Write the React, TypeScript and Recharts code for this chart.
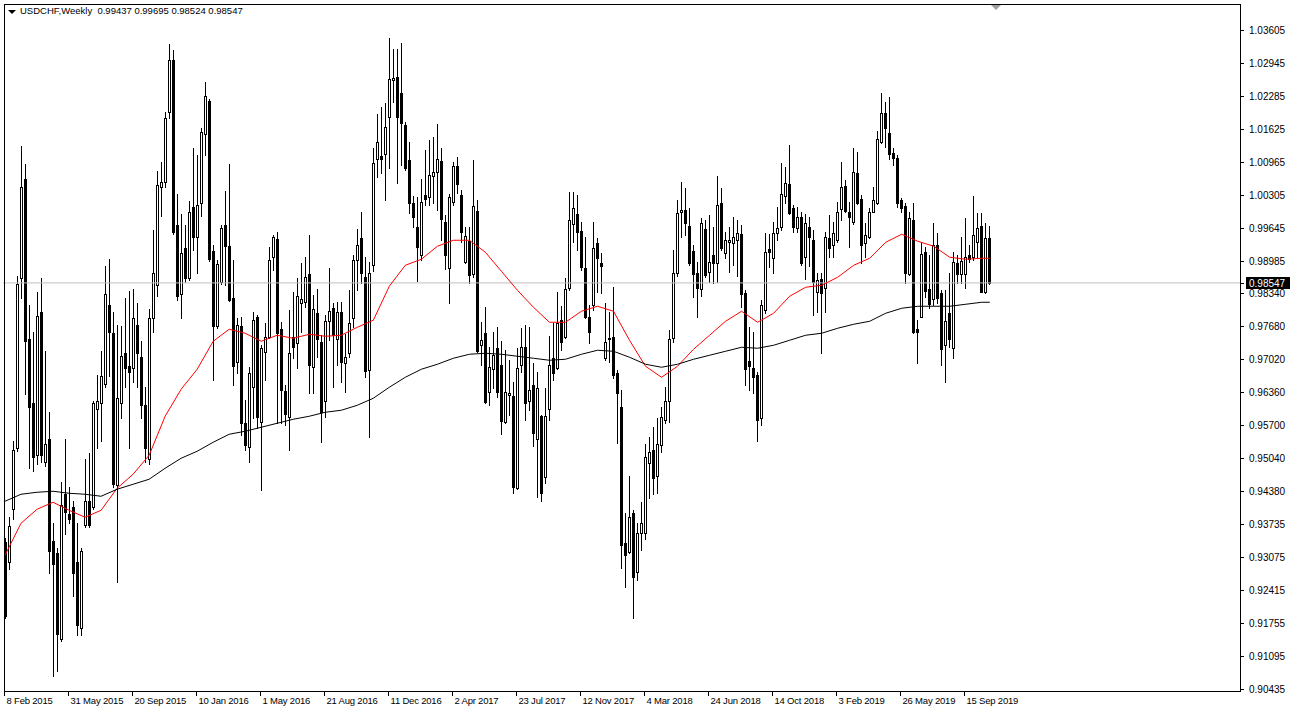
import { Bar, ComposedChart, Line, ReferenceLine, XAxis, YAxis } from "recharts";

const FONT = '"Liberation Sans", Arial, sans-serif';

const weekLabels = [
  "8 Feb 2015", "31 May 2015", "20 Sep 2015", "10 Jan 2016", "1 May 2016", "21 Aug 2016",
  "11 Dec 2016", "2 Apr 2017", "23 Jul 2017", "12 Nov 2017", "4 Mar 2018", "24 Jun 2018",
  "14 Oct 2018", "3 Feb 2019", "26 May 2019", "15 Sep 2019",
];
const labelEvery = 16;

const opens = [
  0.9336, 0.9296, 0.9402, 0.9524, 0.9864, 1.0062, 0.9742, 0.9614, 0.951, 0.9796, 0.9496, 0.9542, 0.9338, 0.9314, 0.9142, 0.9432,
  0.9392, 0.9406, 0.9296, 0.9164, 0.937, 0.9418, 0.9406, 0.9602, 0.9614, 0.9652, 0.981, 0.9754, 0.945, 0.9614, 0.9714, 0.9688,
  0.9684, 0.977, 0.9706, 0.961, 0.9502, 0.9784, 0.985, 1.0046, 1.0056, 1.0196, 1.03, 0.997, 0.9832, 0.9924, 0.9864, 1.0006,
  0.9946, 1.0014, 1.0152, 1.0218, 0.9918, 0.9768, 0.9856, 0.997, 0.9928, 0.9824, 0.9696, 0.9768, 0.9574, 0.9526, 0.9646, 0.9786,
  0.9576, 0.9716, 0.9746, 0.9906, 0.9942, 0.9762, 0.9638, 0.9586, 0.9746, 0.9734, 0.9814, 0.9816, 0.9872, 0.9686, 0.9794, 0.9736,
  0.9618, 0.9778, 0.9804, 0.9742, 0.9796, 0.9694, 0.9714, 0.9784, 0.99, 0.9944, 0.9866, 0.968, 0.989, 1.0102, 1.0108, 1.0112,
  1.0186, 1.026, 1.0266, 1.0234, 1.017, 1.01, 1.0014, 0.9966, 0.991, 1.003, 1.0026, 1.0068, 1.0076, 1.0098, 0.9976, 0.9884,
  1.0016, 1.0088, 1.003, 0.9896, 0.9938, 0.9872, 0.9998, 0.973, 0.9754, 0.9636, 0.9682, 0.9724, 0.969, 0.9576, 0.963, 0.9628,
  0.9444, 0.969, 0.9726, 0.9618, 0.965, 0.9542, 0.9588, 0.9466, 0.9602, 0.9704, 0.9684, 0.978, 0.9746, 0.9844, 0.9972, 0.9992,
  0.9958, 0.9884, 0.9786, 0.981, 0.9934, 0.9894, 0.9704, 0.9742, 0.9746, 0.9674, 0.9606, 0.9334, 0.9316, 0.9394, 0.9276, 0.9354,
  0.9354, 0.9494, 0.952, 0.9468, 0.953, 0.958, 0.9618, 0.9744, 0.9874, 0.9996, 1.0, 0.9968, 0.9918, 0.9874, 0.9842, 0.9962,
  0.9876, 0.991, 0.9894, 1.0014, 0.9914, 0.9936, 0.9934, 0.994, 0.9952, 0.9834, 0.9698, 0.9684, 0.967, 0.9584, 0.98, 0.9922,
  0.9904, 0.9954, 0.9966, 1.0028, 1.0052, 1.0004, 0.9964, 0.9986, 0.9906, 0.9966, 0.994, 0.9836, 0.9862, 0.9844, 0.9944, 0.993,
  0.994, 1.0002, 1.0048, 0.9996, 0.9976, 1.0074, 1.0022, 0.9934, 0.9946, 0.9996, 1.0014, 1.0136, 1.0194, 1.0154, 1.0114, 1.0104,
  1.002, 1.0008, 0.9872, 0.998, 0.9762, 0.9786, 0.9916, 0.9842, 0.9822, 0.993, 0.9834, 0.973, 0.9794, 0.9724, 0.9894, 0.9872,
  0.9872, 0.991, 0.9906, 0.9936, 0.9968, 0.9836, 0.99437,
];

const highs = [
  0.9344, 0.9386, 0.9538, 0.9868, 1.0128, 1.0092, 0.981, 0.9756, 0.9836, 0.9864, 0.9718, 0.9596, 0.9374, 0.9324, 0.9456, 0.9542,
  0.9446, 0.9418, 0.9374, 0.9324, 0.9502, 0.9514, 0.9618, 0.967, 0.9718, 0.9888, 0.9902, 0.9796, 0.977, 0.9768, 0.9824, 0.9838,
  0.9842, 0.9814, 0.9738, 0.9646, 0.9802, 0.996, 1.0078, 1.0096, 1.0196, 1.0332, 1.032, 1.0032, 0.9992, 0.997, 1.0018, 1.0124,
  1.011, 1.0164, 1.0256, 1.0222, 0.993, 0.99, 0.997, 1.0038, 1.0092, 0.99, 0.9784, 0.9786, 0.962, 0.9686, 0.9796, 0.979,
  0.973, 0.9774, 0.9926, 0.995, 0.9956, 0.9776, 0.965, 0.98, 0.9836, 0.9864, 0.9894, 0.9906, 0.995, 0.983, 0.9842, 0.975,
  0.979, 0.9884, 0.9814, 0.9816, 0.9816, 0.9752, 0.984, 0.991, 0.9962, 0.9996, 0.9906, 0.9896, 1.0124, 1.0192, 1.0206, 1.0214,
  1.0344, 1.0322, 1.0322, 1.0334, 1.0176, 1.0136, 1.0028, 1.0026, 1.0062, 1.012, 1.014, 1.0146, 1.0172, 1.0124, 0.999, 1.0032,
  1.0096, 1.0106, 1.004, 0.9966, 0.9966, 1.01, 1.002, 0.9776, 0.9806, 0.9726, 0.9756, 0.9766, 0.9738, 0.972, 0.97, 0.9656,
  0.9724, 0.9764, 0.977, 0.9766, 0.9694, 0.9676, 0.959, 0.9644, 0.9748, 0.9774, 0.9836, 0.9808, 0.9864, 1.0036, 1.0036, 1.003,
  0.9976, 0.9946, 0.981, 0.9976, 0.9944, 0.9914, 0.9814, 0.9796, 0.9846, 0.968, 0.964, 0.9394, 0.9468, 0.94, 0.9374, 0.9416,
  0.9532, 0.9546, 0.9566, 0.9584, 0.9606, 0.9646, 0.976, 0.992, 1.002, 1.0056, 1.0044, 1.0004, 0.993, 0.9896, 0.9984, 0.998,
  0.999, 0.9966, 1.0068, 1.0044, 0.9956, 0.9966, 0.9986, 0.998, 0.997, 0.984, 0.9766, 0.9756, 0.9676, 0.982, 0.9954, 0.9952,
  0.9976, 1.0006, 1.0094, 1.0086, 1.013, 1.001, 1.0006, 0.9996, 0.9992, 0.9986, 0.996, 0.9874, 0.9874, 0.9956, 0.999, 0.9976,
  1.0016, 1.0096, 1.006, 1.0016, 1.0124, 1.0116, 1.003, 0.9974, 1.0004, 1.0046, 1.0158, 1.0234, 1.0216, 1.0226, 1.0124, 1.011,
  1.0024, 1.0014, 0.9996, 1.0014, 0.978, 0.9934, 0.9926, 0.991, 0.9974, 0.9954, 0.984, 0.984, 0.9874, 0.9916, 0.991, 0.9946,
  0.9984, 0.993, 1.0028, 0.9994, 0.9994, 0.9974, 0.99695,
];

const lows = [
  0.9184, 0.9282, 0.9382, 0.9518, 0.9824, 0.9632, 0.9484, 0.9478, 0.9492, 0.9496, 0.9488, 0.9274, 0.9068, 0.9078, 0.9138, 0.9352,
  0.9374, 0.9228, 0.915, 0.915, 0.9366, 0.9366, 0.9402, 0.9524, 0.9538, 0.9646, 0.9668, 0.9446, 0.9256, 0.9584, 0.9646, 0.9524,
  0.9656, 0.9646, 0.9584, 0.9496, 0.9492, 0.9756, 0.9828, 0.9988, 1.0046, 1.0184, 0.9952, 0.982, 0.9784, 0.9856, 0.986, 0.992,
  0.9874, 0.9988, 1.011, 0.9898, 0.966, 0.9764, 0.9852, 0.985, 0.9818, 0.965, 0.9674, 0.955, 0.952, 0.9496, 0.9584, 0.9564,
  0.944, 0.966, 0.9744, 0.988, 0.9574, 0.9574, 0.957, 0.952, 0.9704, 0.9684, 0.9756, 0.9806, 0.9634, 0.9634, 0.9706, 0.9536,
  0.9586, 0.974, 0.9646, 0.969, 0.9656, 0.9636, 0.9706, 0.9766, 0.984, 0.9854, 0.9666, 0.9546, 0.9878, 1.0066, 1.0074, 1.002,
  1.0084, 1.0216, 1.0054, 1.009, 1.008, 0.9994, 0.9966, 0.9858, 0.99, 1.001, 1.001, 1.0014, 1.0, 0.994, 0.9882, 0.9814,
  1.001, 1.0034, 0.9936, 0.9894, 0.9854, 0.9866, 0.9716, 0.969, 0.9614, 0.961, 0.9644, 0.9626, 0.9552, 0.9574, 0.959, 0.9434,
  0.9442, 0.9676, 0.958, 0.96, 0.9528, 0.9426, 0.9418, 0.9454, 0.958, 0.966, 0.9682, 0.972, 0.9744, 0.984, 0.9936, 0.992,
  0.988, 0.9784, 0.9734, 0.98, 0.9836, 0.9834, 0.97, 0.9696, 0.9664, 0.9534, 0.9284, 0.9246, 0.9314, 0.9184, 0.926, 0.932,
  0.9342, 0.9424, 0.9432, 0.9434, 0.9516, 0.9574, 0.9576, 0.9736, 0.9868, 0.9946, 0.995, 0.989, 0.9826, 0.9786, 0.9828, 0.9866,
  0.9856, 0.9854, 0.9856, 0.992, 0.9904, 0.9876, 0.989, 0.9868, 0.9806, 0.965, 0.964, 0.9634, 0.9538, 0.957, 0.9794, 0.9886,
  0.9874, 0.994, 0.996, 1.0014, 0.9992, 0.9956, 0.9956, 0.989, 0.9862, 0.9888, 0.979, 0.9796, 0.9714, 0.9796, 0.9906, 0.9906,
  0.9936, 0.998, 0.9996, 0.9926, 0.9972, 1.0012, 0.9894, 0.9906, 0.9944, 0.9996, 1.0012, 1.0134, 1.0126, 1.0102, 1.009, 1.0006,
  0.9996, 0.9854, 0.987, 0.9754, 0.9694, 0.9786, 0.9826, 0.9804, 0.981, 0.9814, 0.969, 0.9656, 0.9726, 0.9704, 0.9854, 0.9854,
  0.9844, 0.9896, 0.99, 0.9904, 0.9836, 0.9834, 0.98524,
];

const closes = [
  0.9188, 0.9368, 0.952, 0.9852, 1.0046, 0.9738, 0.9606, 0.9506, 0.9788, 0.951, 0.9532, 0.9318, 0.9292, 0.9152, 0.941, 0.9396,
  0.9382, 0.9274, 0.917, 0.9318, 0.9418, 0.937, 0.9614, 0.9618, 0.9668, 0.9832, 0.9756, 0.9452, 0.9624, 0.9708, 0.9684, 0.9676,
  0.9784, 0.9714, 0.961, 0.9524, 0.9784, 0.9874, 1.005, 1.0056, 1.0184, 1.03, 0.9956, 0.9828, 0.9914, 0.9864, 0.9996, 0.9946,
  1.001, 1.0156, 1.0228, 0.9902, 0.9768, 0.9892, 0.9964, 0.9928, 0.982, 0.9688, 0.977, 0.9574, 0.953, 0.9674, 0.978, 0.9586,
  0.9724, 0.9746, 0.99, 0.9946, 0.9754, 0.964, 0.9592, 0.9714, 0.9726, 0.9828, 0.9822, 0.9866, 0.969, 0.9802, 0.9742, 0.9596,
  0.9778, 0.9798, 0.975, 0.9796, 0.9696, 0.9706, 0.9774, 0.99, 0.993, 0.9874, 0.9678, 0.9874, 1.0094, 1.0136, 1.0102, 1.0166,
  1.0262, 1.0264, 1.0186, 1.0174, 1.0084, 1.0014, 0.9986, 0.9926, 1.0016, 1.0022, 1.007, 1.0076, 1.0102, 0.9982, 0.991, 1.0026,
  1.0088, 1.0052, 0.9956, 0.9948, 0.987, 1.0008, 0.9718, 0.974, 0.9616, 0.9686, 0.971, 0.9636, 0.9578, 0.9636, 0.9634, 0.9446,
  0.9684, 0.9726, 0.9614, 0.964, 0.9554, 0.9644, 0.9434, 0.9588, 0.969, 0.9674, 0.9774, 0.9736, 0.9842, 0.998, 1.0004, 0.9956,
  0.9886, 0.9786, 0.9756, 0.9924, 0.9904, 0.9888, 0.9736, 0.9744, 0.967, 0.9634, 0.933, 0.931, 0.9386, 0.9266, 0.9354, 0.9374,
  0.9506, 0.9516, 0.9464, 0.9532, 0.9586, 0.9618, 0.9742, 0.9874, 0.9994, 1.0, 0.9974, 0.9894, 0.9872, 0.9844, 0.9974, 0.987,
  0.9896, 0.9894, 1.001, 0.9924, 0.994, 0.994, 0.9946, 0.9954, 0.9832, 0.9682, 0.9688, 0.9666, 0.958, 0.981, 0.9916, 0.9916,
  0.9954, 0.9964, 1.0032, 1.0054, 0.9994, 0.9966, 0.9986, 0.9894, 0.9974, 0.9946, 0.9856, 0.986, 0.9834, 0.9946, 0.9924, 0.9954,
  0.9996, 1.0046, 0.9998, 0.9986, 1.0076, 1.0014, 0.993, 0.995, 0.9996, 1.002, 1.0142, 1.0194, 1.0164, 1.0112, 1.0104, 1.0014,
  1.0004, 0.9874, 0.9984, 0.9756, 0.9756, 0.9912, 0.9838, 0.9812, 0.993, 0.9824, 0.9722, 0.9778, 0.9742, 0.9896, 0.9872, 0.9898,
  0.9906, 0.9902, 0.995, 0.9964, 0.9836, 0.9944, 0.98547,
];

// moving averages, read every 4th week, last value on the final week
const maStep = 4;
const redMa = [
  0.931, 0.9374, 0.9402, 0.9416, 0.94, 0.9386, 0.94, 0.9444, 0.9472, 0.951, 0.9588, 0.9642, 0.9682, 0.9738, 0.9762, 0.9754,
  0.9738, 0.975, 0.9744, 0.9752, 0.9748, 0.975, 0.9766, 0.978, 0.9848, 0.989, 0.9902, 0.9928, 0.994, 0.994, 0.9916, 0.9878,
  0.984, 0.9806, 0.9776, 0.9776, 0.9798, 0.9808, 0.9798, 0.974, 0.9688, 0.9666, 0.9688, 0.9722, 0.975, 0.9778, 0.9798, 0.9776,
  0.9794, 0.9828, 0.9846, 0.985, 0.9866, 0.989, 0.9904, 0.9936, 0.9952, 0.9938, 0.9928, 0.9906, 0.9902, 0.9904, 0.9904,
];
const blackMa = [
  0.9418, 0.9432, 0.9436, 0.9438, 0.9434, 0.9432, 0.9428, 0.9442, 0.9452, 0.9462, 0.9484, 0.9504, 0.9518, 0.9536, 0.9552, 0.9558,
  0.9566, 0.9574, 0.9582, 0.9588, 0.9596, 0.96, 0.961, 0.9624, 0.9646, 0.9666, 0.9682, 0.9692, 0.9704, 0.9712, 0.9714, 0.9712,
  0.9708, 0.9704, 0.97, 0.9702, 0.9712, 0.972, 0.9718, 0.9706, 0.9692, 0.9686, 0.9692, 0.9702, 0.971, 0.9718, 0.9726, 0.9724,
  0.973, 0.974, 0.975, 0.9754, 0.9764, 0.9772, 0.9778, 0.9794, 0.9804, 0.9808, 0.9808, 0.9808, 0.9812, 0.9816, 0.9816,
];

const priceTicks = [
  1.03605, 1.02945, 1.02285, 1.01625, 1.00965, 1.00305, 0.99645, 0.98985, 0.9834, 0.9768, 0.9702,
  0.9636, 0.957, 0.9504, 0.9438, 0.93735, 0.93075, 0.92415, 0.91755, 0.91095, 0.90435,
];
const lastPrice = 0.98547;
const priceDomain = [0.90385, 1.04125];
const shiftWeeks = 62; // empty space on the right (chart shift)

const lastWeek = opens.length - 1;
const maAt = (arr: number[], i: number) => {
  if (i === lastWeek) return arr[arr.length - 1];
  if (i % maStep === 0 && i / maStep < arr.length - 1) return arr[i / maStep];
  return null;
};

const rows = Array.from({ length: opens.length + shiftWeeks }, (_, i) => {
  if (i > lastWeek) return { week: i, range: null, red: null, black: null };
  const o = opens[i], h = highs[i], l = lows[i], c = closes[i];
  return {
    week: i,
    open: o,
    high: h,
    low: l,
    close: c,
    range: [Math.min(l, o, c), Math.max(h, o, c)],
    red: maAt(redMa, i),
    black: maAt(blackMa, i),
  };
});

const tickWeeks = weekLabels.map((_, k) => k * labelEvery);

function Candle(props: any) {
  const { x, y, width, height, payload } = props;
  if (!payload || payload.open == null) return null;
  const { open, close } = payload;
  const [lo, hi] = payload.range;
  const top = Math.min(y, y + height);
  const h = Math.abs(height);
  const span = hi - lo || 1;
  const toY = (v: number) => top + ((hi - v) / span) * h;
  const col = Math.floor(x + width / 2);
  const yo = Math.round(toY(open));
  const yc = Math.round(toY(close));
  const bTop = Math.min(yo, yc);
  const bBot = Math.max(yo, yc);
  const up = close >= open;
  return (
    <g shapeRendering="crispEdges">
      <line x1={col + 0.5} x2={col + 0.5} y1={Math.round(top)} y2={Math.round(top + h) + 1} stroke="#000" strokeWidth={1} />
      {up ? (
        <rect x={col - 0.5} y={bTop + 0.5} width={2} height={Math.max(bBot - bTop, 0)} fill="#fff" stroke="#000" strokeWidth={1} />
      ) : (
        <rect x={col - 1} y={bTop} width={3} height={bBot - bTop + 1} fill="#000" />
      )}
    </g>
  );
}

function PriceTick(props: any) {
  const { x, y, payload } = props;
  const v = payload.value;
  const isLast = v === lastPrice;
  const py = Math.round(y) + 0.5;
  return (
    <g>
      <line x1={x} x2={x + 4} y1={py} y2={py} stroke="#000" shapeRendering="crispEdges" />
      {isLast && <rect x={x + 6} y={py - 6.5} width={44} height={12} fill="#000" />}
      <text x={x + 9} y={py + 3.5} fill={isLast ? "#fff" : "#000"} fontSize={10} fontFamily={FONT}>
        {v.toFixed(5)}
      </text>
    </g>
  );
}

function DateTick(props: any) {
  const { x, y, payload } = props;
  const k = tickWeeks.indexOf(payload.value);
  const px = Math.floor(x) - 0.5;
  return (
    <g>
      <line x1={px} x2={px} y1={y} y2={y + 5} stroke="#000" shapeRendering="crispEdges" />
      <text x={px + 2} y={y + 13} fill="#000" fontSize={9.5} letterSpacing={-0.2} fontFamily={FONT}>
        {weekLabels[k]}
      </text>
    </g>
  );
}

export default function App() {
  return (
    <div style={{ position: "absolute", left: 0, top: 0, width: 1293, height: 715, background: "#fff", overflow: "hidden" }}>
      <ComposedChart width={1293} height={715} data={rows} margin={{ top: 4, right: 0, bottom: 0, left: 3 }} barCategoryGap={0}>
        <XAxis
          dataKey="week"
          type="category"
          ticks={tickWeeks}
          interval={0}
          height={24}
          axisLine={false}
          tickLine={false}
          tickSize={0}
          tickMargin={0}
          tick={<DateTick />}
        />
        <YAxis
          orientation="right"
          type="number"
          domain={priceDomain}
          allowDataOverflow
          ticks={[...priceTicks, lastPrice]}
          interval={0}
          width={53}
          axisLine={false}
          tickLine={false}
          tickSize={0}
          tickMargin={0}
          tick={<PriceTick />}
        />
        <ReferenceLine y={lastPrice} stroke="#c0c0c0" strokeWidth={1} />
        <Bar dataKey="range" shape={<Candle />} isAnimationActive={false} />
        <Line dataKey="red" stroke="#ff0000" strokeWidth={1} dot={false} connectNulls type="linear" isAnimationActive={false} />
        <Line dataKey="black" stroke="#000000" strokeWidth={1} dot={false} connectNulls type="linear" isAnimationActive={false} />
      </ComposedChart>
      <div
        style={{
          position: "absolute", left: 4, top: 4, width: 1237, height: 688,
          border: "1px solid #000", boxSizing: "border-box", pointerEvents: "none",
        }}
      />
      <div style={{ position: "absolute", left: 8, top: 10, width: 0, height: 0, borderLeft: "4px solid transparent", borderRight: "4px solid transparent", borderTop: "4px solid #000" }} />
      <div style={{ position: "absolute", left: 20, top: 5, fontFamily: FONT, fontSize: 9.5, color: "#000", whiteSpace: "pre" }}>
        {"USDCHF,Weekly  0.99437 0.99695 0.98524 0.98547"}
      </div>
      <div style={{ position: "absolute", left: 991, top: 5, width: 0, height: 0, borderLeft: "5px solid transparent", borderRight: "5px solid transparent", borderTop: "5px solid #a0a0a0" }} />
    </div>
  );
}
